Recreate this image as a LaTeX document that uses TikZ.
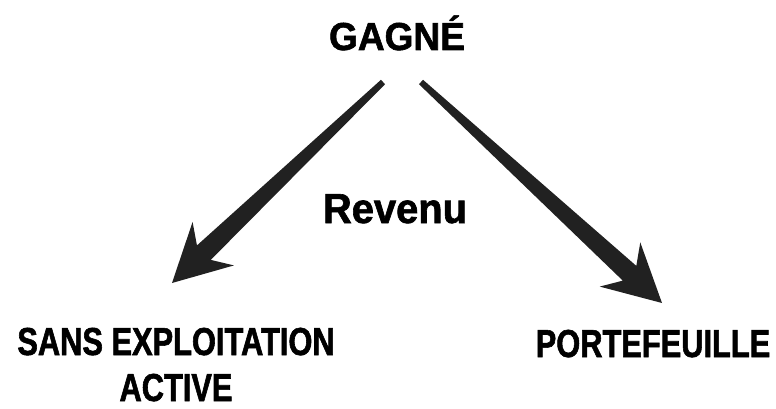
\documentclass[tikz,border=0pt]{standalone}
\usepackage{fontspec}
\setmainfont{Liberation Sans}[FakeStretch=0.79,FakeBold=1.5]
\newfontfamily\widesans{Liberation Sans}[FakeStretch=0.95,FakeBold=1.5]
\usetikzlibrary{calc}
\begin{document}
\begin{tikzpicture}
      [x=1pt,y=-1pt,
      word/.style={font=\bfseries\fontsize{39}{46}\selectfont,
        inner sep=0pt, anchor=base, align=center},
      ink/.style={fill=black!87}]
      \useasboundingbox (0,0) rectangle (776,409);
      % labels
      \node[word,font=\widesans\bfseries\fontsize{39}{46}\selectfont] (gagne) at (397,50) {GAGNÉ};
      \node[word,font=\widesans\bfseries\fontsize{42}{46}\selectfont] (revenu) at (395,223) {Revenu};
      \node[word] (sans) at (176,401) {SANS EXPLOITATION\\ACTIVE};
      \node[word] (porte) at (653,357) {PORTEFEUILLE};
      % arrow ends
      \coordinate (ls) at (383,82);
      \coordinate (lt) at (172,283);
      \coordinate (rs) at (421,82);
      \coordinate (rt) at (662,303);
      % tapered brush arrows
      \foreach \s/\t in {ls/lt, rs/rt}
        \fill[ink] ($(\s)!3pt!90:(\t)$)
          -- ($(\t)!44pt!(\s)!10pt!-90:(\s)$)
          -- ($(\t)!57pt!(\s)!30pt!-90:(\s)$)
          -- (\t)
          -- ($(\t)!57pt!(\s)!30pt!90:(\s)$)
          -- ($(\t)!44pt!(\s)!10pt!90:(\s)$)
          -- ($(\s)!3pt!-90:(\t)$) -- cycle;
    \end{tikzpicture}
\end{document}
